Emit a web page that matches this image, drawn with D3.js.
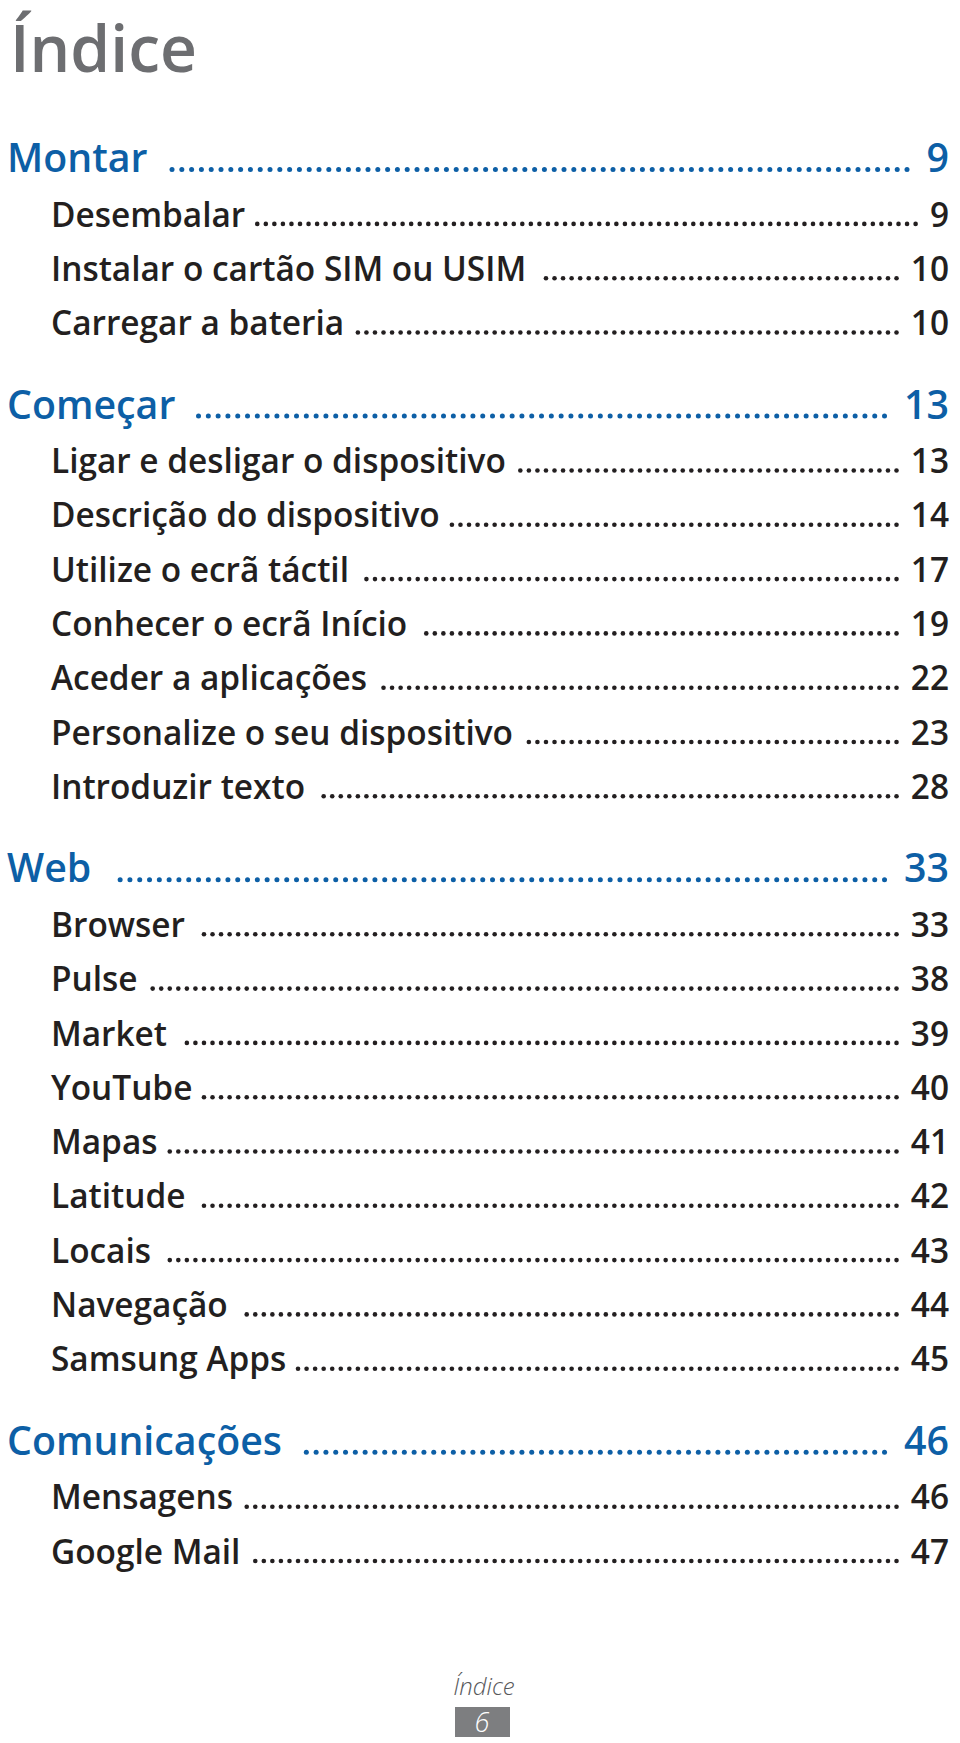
<!DOCTYPE html>
<html>
<head>
<meta charset="utf-8">
<script src="https://cdn.jsdelivr.net/npm/d3@7"></script>
<style>
  html, body { margin: 0; padding: 0; background: #ffffff; }
  svg { display: block; }
  text { font-family: "Open Sans", "Noto Sans", sans-serif; }
</style>
</head>
<body>
<svg id="chart" width="960" height="1743"></svg>
<script>
// ---- data ----
const pageTitle = "Índice";
const sectionTitles = ["Montar", "Começar", "Web", "Comunicações"];
const sectionPages = [9, 13, 33, 46];
const itemTitles = [
  ["Desembalar", "Instalar o cartão SIM ou USIM", "Carregar a bateria"],
  ["Ligar e desligar o dispositivo", "Descrição do dispositivo", "Utilize o ecrã táctil",
   "Conhecer o ecrã Início", "Aceder a aplicações", "Personalize o seu dispositivo", "Introduzir texto"],
  ["Browser", "Pulse", "Market", "YouTube", "Mapas", "Latitude", "Locais", "Navegação", "Samsung Apps"],
  ["Mensagens", "Google Mail"]
];
const itemPages = [
  [9, 10, 10],
  [13, 14, 17, 19, 22, 23, 28],
  [33, 38, 39, 40, 41, 42, 43, 44, 45],
  [46, 47]
];
const footerLabel = "Índice";
const footerPage = "6";

// ---- layout ----
const W = 960, H = 1743;
const svg = d3.select("#chart");
const blue = "#0d5fa6", dark = "#231f20", grey = "#6d6e71";

// build rows with cumulative baselines
const rows = [];
let y = 172;
sectionTitles.forEach((t, si) => {
  if (si > 0) y += 83.5;
  rows.push({ level: 0, title: t, page: sectionPages[si], y });
  itemTitles[si].forEach((it, ii) => {
    y += (ii === 0 ? 54.5 : 54.3);
    rows.push({ level: 1, title: it, page: itemPages[si][ii], y });
  });
});

const style = {
  0: { x: 7, fs: 40, fill: blue, weight: 600, ref: "Comunicações", refW: 275, dotR: 2.5, dotSp: 9.8, gapL: 20, gapR: 17 },
  1: { x: 51, fs: 35, fill: dark, weight: 600, ref: "Ligar e desligar o dispositivo", refW: 455, dotR: 2.3, dotSp: 8.55, gapL: 9, gapR: 12 }
};

// measure natural width to obtain horizontal compression (Myriad-like)
function measure(str, fs, weight, italic) {
  const t = svg.append("text").attr("font-size", fs).attr("font-weight", weight)
    .attr("font-style", italic ? "italic" : "normal").text(str);
  const w = t.node().getComputedTextLength();
  t.remove();
  return w;
}
Object.values(style).forEach(s => { s.sx = s.refW / measure(s.ref, s.fs, s.weight); });

const numRight = 949;

// title
const titleFs = 66;
const titleSx = 187 / measure(pageTitle, titleFs, 600);
svg.append("text")
  .attr("transform", `translate(10,72) scale(${titleSx},1)`)
  .attr("font-size", titleFs).attr("font-weight", 600).attr("fill", grey)
  .text(pageTitle);

// rows
const g = svg.append("g");
const rowG = g.selectAll("g.row").data(rows).join("g").attr("class", "row");

rowG.each(function (d) {
  const s = style[d.level];
  const sel = d3.select(this);
  const tw = measure(d.title, s.fs, s.weight) * s.sx;
  const nw = measure(String(d.page), s.fs, s.weight) * s.sx;
  sel.append("text")
    .attr("transform", `translate(${s.x},${d.y}) scale(${s.sx},1)`)
    .attr("font-size", s.fs).attr("font-weight", s.weight).attr("fill", s.fill)
    .text(d.title);
  sel.append("text")
    .attr("transform", `translate(${numRight},${d.y}) scale(${s.sx},1)`)
    .attr("text-anchor", "end")
    .attr("font-size", s.fs).attr("font-weight", s.weight).attr("fill", s.fill)
    .text(d.page);
  const last = numRight - nw - s.gapR - s.dotR;
  const first = s.x + tw + s.gapL + s.dotR;
  const n = Math.max(0, Math.floor((last - first) / s.dotSp) + 1);
  const dots = d3.range(n).map(i => last - i * s.dotSp);
  sel.selectAll("circle").data(dots).join("circle")
    .attr("cx", c => c).attr("cy", d.y - 2.6).attr("r", s.dotR).attr("fill", s.fill);
});

// footer
const footFs = 24;
svg.append("text")
  .attr("x", 484).attr("y", 1695)
  .attr("text-anchor", "middle")
  .attr("font-size", footFs).attr("font-style", "italic").attr("font-weight", 300)
  .attr("fill", "#58595b")
  .text(footerLabel);
svg.append("rect").attr("x", 455).attr("y", 1707).attr("width", 55).attr("height", 30).attr("fill", "#7d7e80");
svg.append("text")
  .attr("x", 482).attr("y", 1732)
  .attr("text-anchor", "middle")
  .attr("font-size", 27).attr("font-style", "italic").attr("font-weight", 300)
  .attr("fill", "#ffffff")
  .text(footerPage);
</script>
</body>
</html>
